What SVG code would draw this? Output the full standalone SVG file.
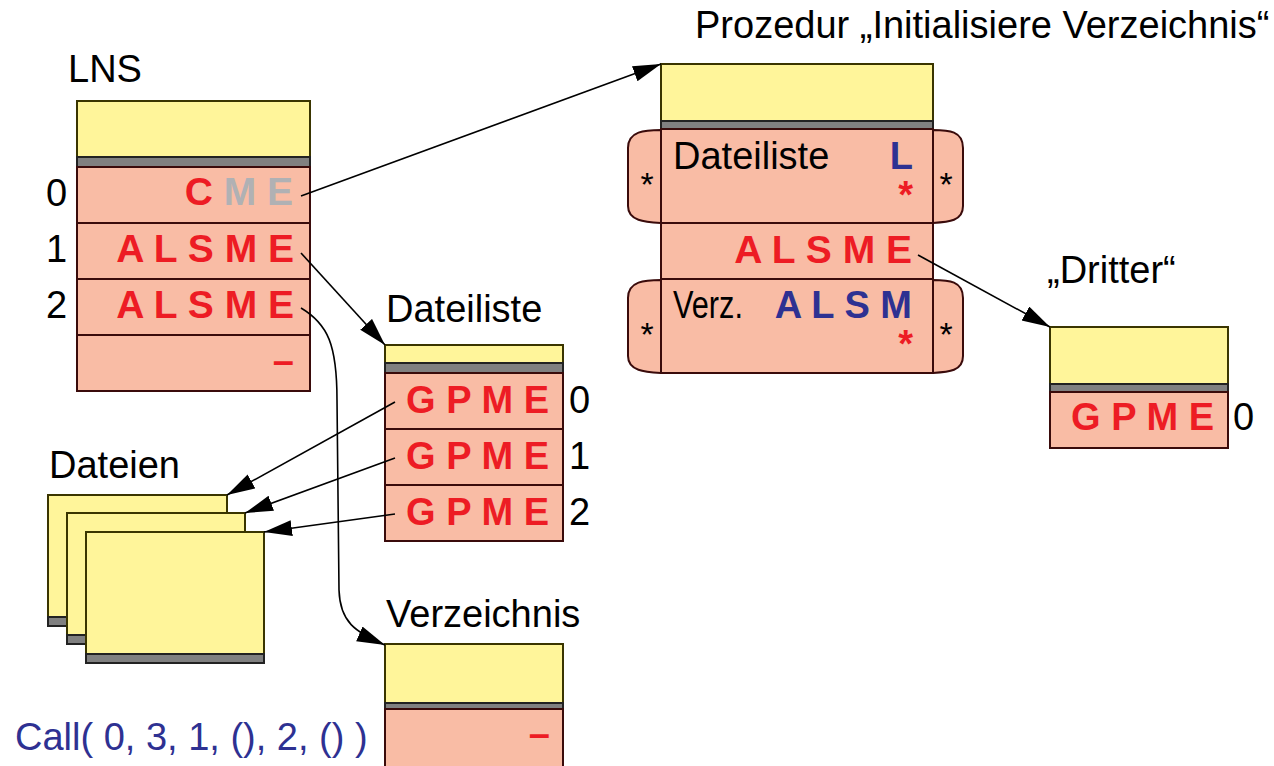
<svg xmlns="http://www.w3.org/2000/svg" width="1274" height="766" viewBox="0 0 1274 766">
<defs>
<marker id="ah" markerUnits="userSpaceOnUse" markerWidth="30" markerHeight="18" refX="28" refY="8" orient="auto">
<path d="M0,0 L28,8 L0,16 z" fill="#000"/>
</marker>
<style>
text{font-family:"Liberation Sans",Arial,sans-serif;font-size:38px;fill:#000}
.y{fill:#fff59a;stroke:#3a3500;stroke-width:2}
.g{fill:#808080;stroke:#222;stroke-width:2}
.s{fill:#f9bca5;stroke:#3a0b0b;stroke-width:2}
.b{font-weight:bold}
.big{font-size:39px}
.r{fill:#ed1c24}
.bl{fill:#2e3192}
.gy{fill:#b0b1b4}
.e{text-anchor:end}
.m{text-anchor:middle}
.st{font-size:34px}
.c{fill:none;stroke:#000;stroke-width:1.6;marker-end:url(#ah)}
</style>
</defs>
<rect width="1274" height="766" fill="#fff"/>

<g id="lns">
<text x="68" y="82">LNS</text>
<rect class="y" x="77" y="101" width="233" height="56"/>
<rect class="g" x="77" y="157" width="233" height="10"/>
<rect class="s" x="77" y="167" width="233" height="56"/>
<rect class="s" x="77" y="223" width="233" height="56"/>
<rect class="s" x="77" y="279" width="233" height="56"/>
<rect class="s" x="77" y="335" width="233" height="56"/>
<text class="b e big" x="293" y="205"><tspan class="r">C </tspan><tspan class="gy">M E</tspan></text>
<text class="b e r big" x="294" y="262">A L S M E</text>
<text class="b e r big" x="294" y="318">A L S M E</text>
<text class="b e r" x="294" y="374">–</text>
<text x="46" y="206">0</text>
<text x="46" y="262">1</text>
<text x="46" y="318">2</text>
</g>

<g id="prozedur">
<text x="695" y="38">Prozedur „Initialisiere Verzeichnis“</text>
<path class="s" d="M661,130 C645,130 628,131 628,148 L628,206 C628,221 645,222 661,223 Z"/>
<path class="s" d="M933,130 C949,130 963,131 963,148 L963,206 C963,221 949,222 933,223 Z"/>
<path class="s" d="M661,280 C645,280 628,281 628,298 L628,356 C628,371 645,372 661,373 Z"/>
<path class="s" d="M933,280 C949,280 963,281 963,298 L963,356 C963,371 949,372 933,373 Z"/>
<rect class="y" x="661" y="64" width="272" height="57"/>
<rect class="g" x="661" y="121" width="272" height="8"/>
<rect class="s" x="661" y="129" width="272" height="94"/>
<rect class="s" x="661" y="223" width="272" height="56"/>
<rect class="s" x="661" y="279" width="272" height="94"/>
<text x="673" y="169">Dateiliste</text>
<text class="b e bl" x="913" y="169">L</text>
<text class="b e r" x="913" y="208">*</text>
<text class="m st" x="647" y="196">*</text>
<text class="m st" x="946" y="196">*</text>
<text class="b e r big" x="912" y="263">A L S M E</text>
<text x="673" y="318" textLength="70" lengthAdjust="spacingAndGlyphs">Verz.</text>
<text class="b e bl" x="912" y="318">A L S M</text>
<text class="b e r" x="913" y="357">*</text>
<text class="m st" x="647" y="346">*</text>
<text class="m st" x="946" y="346">*</text>
</g>

<g id="dateiliste">
<text x="386" y="322">Dateiliste</text>
<rect class="y" x="385" y="345" width="178" height="18"/>
<rect class="g" x="385" y="363" width="178" height="10"/>
<rect class="s" x="385" y="373" width="178" height="56"/>
<rect class="s" x="385" y="429" width="178" height="56"/>
<rect class="s" x="385" y="485" width="178" height="56"/>
<text class="b e r" x="549" y="413">G P M E</text>
<text class="b e r" x="549" y="469">G P M E</text>
<text class="b e r" x="549" y="525">G P M E</text>
<text x="569" y="413">0</text>
<text x="569" y="469">1</text>
<text x="569" y="525">2</text>
</g>

<g id="dritter">
<text x="1047" y="283">„Dritter“</text>
<rect class="y" x="1050" y="327" width="178" height="57"/>
<rect class="g" x="1050" y="384" width="178" height="8"/>
<rect class="s" x="1050" y="392" width="178" height="56"/>
<text class="b e r" x="1214" y="430">G P M E</text>
<text x="1233" y="430">0</text>
</g>

<g id="dateien">
<text x="49" y="478">Dateien</text>
<rect class="y" x="48" y="495" width="179" height="122"/>
<rect class="g" x="48" y="617" width="179" height="9"/>
<rect class="y" x="67" y="513" width="178" height="122"/>
<rect class="g" x="67" y="635" width="178" height="9"/>
<rect class="y" x="86" y="532" width="178" height="122"/>
<rect class="g" x="86" y="654" width="178" height="9"/>
</g>

<g id="verzeichnis">
<text x="386" y="627">Verzeichnis</text>
<rect class="y" x="385" y="644" width="178" height="59"/>
<rect class="g" x="385" y="703" width="178" height="6"/>
<rect class="s" x="385" y="709" width="178" height="60"/>
<text class="b e r" x="550" y="747">–</text>
</g>

<g id="call">
<text class="bl" x="15" y="750">Call( 0, 3, 1, (), 2, () )</text>
</g>

<g id="connectors">
<path class="c" d="M301,196 L661,64"/>
<path class="c" d="M301,253 L385,345"/>
<path class="c" d="M301,308 C328,324 337,345 337,400 L339,590 C340,622 355,632 385,645"/>
<path class="c" d="M395,402 L227,495"/>
<path class="c" d="M395,458 L245,513"/>
<path class="c" d="M395,514 L264,532"/>
<path class="c" d="M918,255 L1050,327"/>
</g>
</svg>
